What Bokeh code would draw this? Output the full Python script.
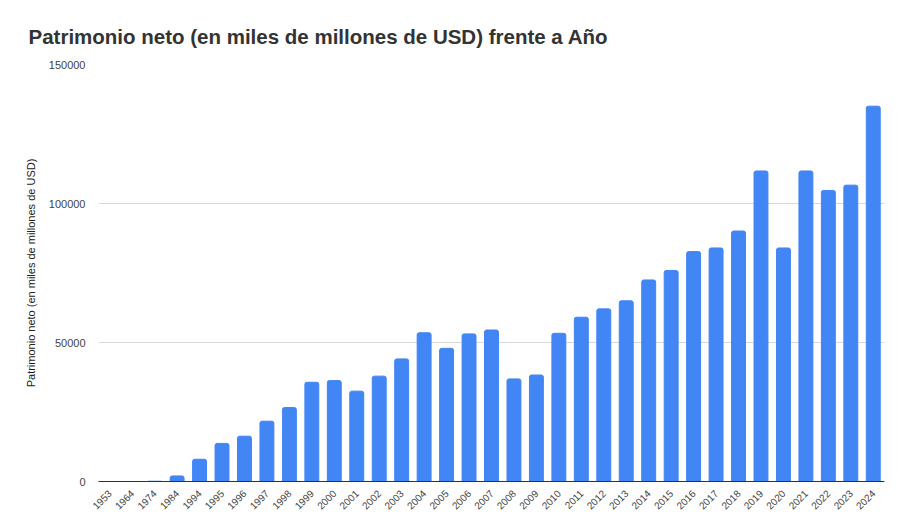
import math
from bokeh.plotting import figure
from bokeh.models import FixedTicker, Range1d, FactorRange, ColumnDataSource, BasicTickFormatter
from bokeh.embed import file_html
from bokeh.resources import INLINE

years = ["1953", "1964", "1974", "1984", "1994", "1995", "1996", "1997", "1998", "1999",
         "2000", "2001", "2002", "2003", "2004", "2005", "2006", "2007", "2008", "2009",
         "2010", "2011", "2012", "2013", "2014", "2015", "2016", "2017", "2018", "2019",
         "2020", "2021", "2022", "2023", "2024"]
net_worth = [0, 5, 100, 2000, 8000, 13700, 16300, 21700, 26600, 35700,
             36300, 32500, 37900, 44100, 53500, 47900, 53100, 54500, 36900, 38300,
             53300, 59100, 62100, 65000, 72500, 75900, 82700, 84000, 90100, 111700,
             84000, 111700, 104700, 106600, 135000]
y_ticks = [0, 50000, 100000, 150000]

title_text = "Patrimonio neto (en miles de millones de USD) frente a Año"
y_label = "Patrimonio neto (en miles de millones de USD)"

src = ColumnDataSource(dict(x=years, top=net_worth))

p = figure(width=895, height=523, output_backend="svg", toolbar_location=None,
           x_range=FactorRange(factors=years, range_padding=0),
           y_range=Range1d(0, 150000),
           min_border_left=98, min_border_right=11, min_border_top=64, min_border_bottom=42,
           title=title_text)

p.vbar(x="x", top="top", width=0.62, source=src, color="#4285F4",
       border_radius=(2, 2, 0, 0))

p.title.text_font = "Liberation Sans"
p.title.text_font_size = "20.5px"
p.title.text_font_style = "bold"
p.title.text_color = "#333333"
p.title.align = "left"
p.title.offset = -70
p.title.standoff = 33

p.outline_line_color = None
p.background_fill_color = "white"
p.border_fill_color = "white"

p.xgrid.grid_line_color = None
p.ygrid.grid_line_color = "#d9d9d9"
p.ygrid.grid_line_width = 1

p.yaxis.ticker = FixedTicker(ticks=y_ticks)
p.yaxis.formatter = BasicTickFormatter(use_scientific=False)
p.yaxis.axis_line_color = None
p.yaxis.major_tick_line_color = None
p.yaxis.minor_tick_line_color = None
p.yaxis.major_label_text_font = "Liberation Sans"
p.yaxis.major_label_text_font_size = "11px"
p.yaxis.major_label_text_color = "#444444"
p.yaxis.major_label_standoff = 7
p.yaxis.axis_label = y_label
p.yaxis.axis_label_text_font = "Liberation Sans"
p.yaxis.axis_label_text_font_size = "11px"
p.yaxis.axis_label_text_font_style = "normal"
p.yaxis.axis_label_text_color = "#222222"
p.yaxis.axis_label_standoff = 9

p.xaxis.axis_line_color = "#333333"
p.xaxis.axis_line_width = 1
p.xaxis.major_tick_line_color = None
p.xaxis.minor_tick_line_color = None
p.xaxis.major_label_orientation = math.pi / 4
p.xaxis.major_label_text_font = "Liberation Sans"
p.xaxis.major_label_text_font_size = "10px"
p.xaxis.major_label_text_color = "#444444"
p.xaxis.major_label_standoff = 4

open("out.html", "w").write(file_html(p, INLINE))
